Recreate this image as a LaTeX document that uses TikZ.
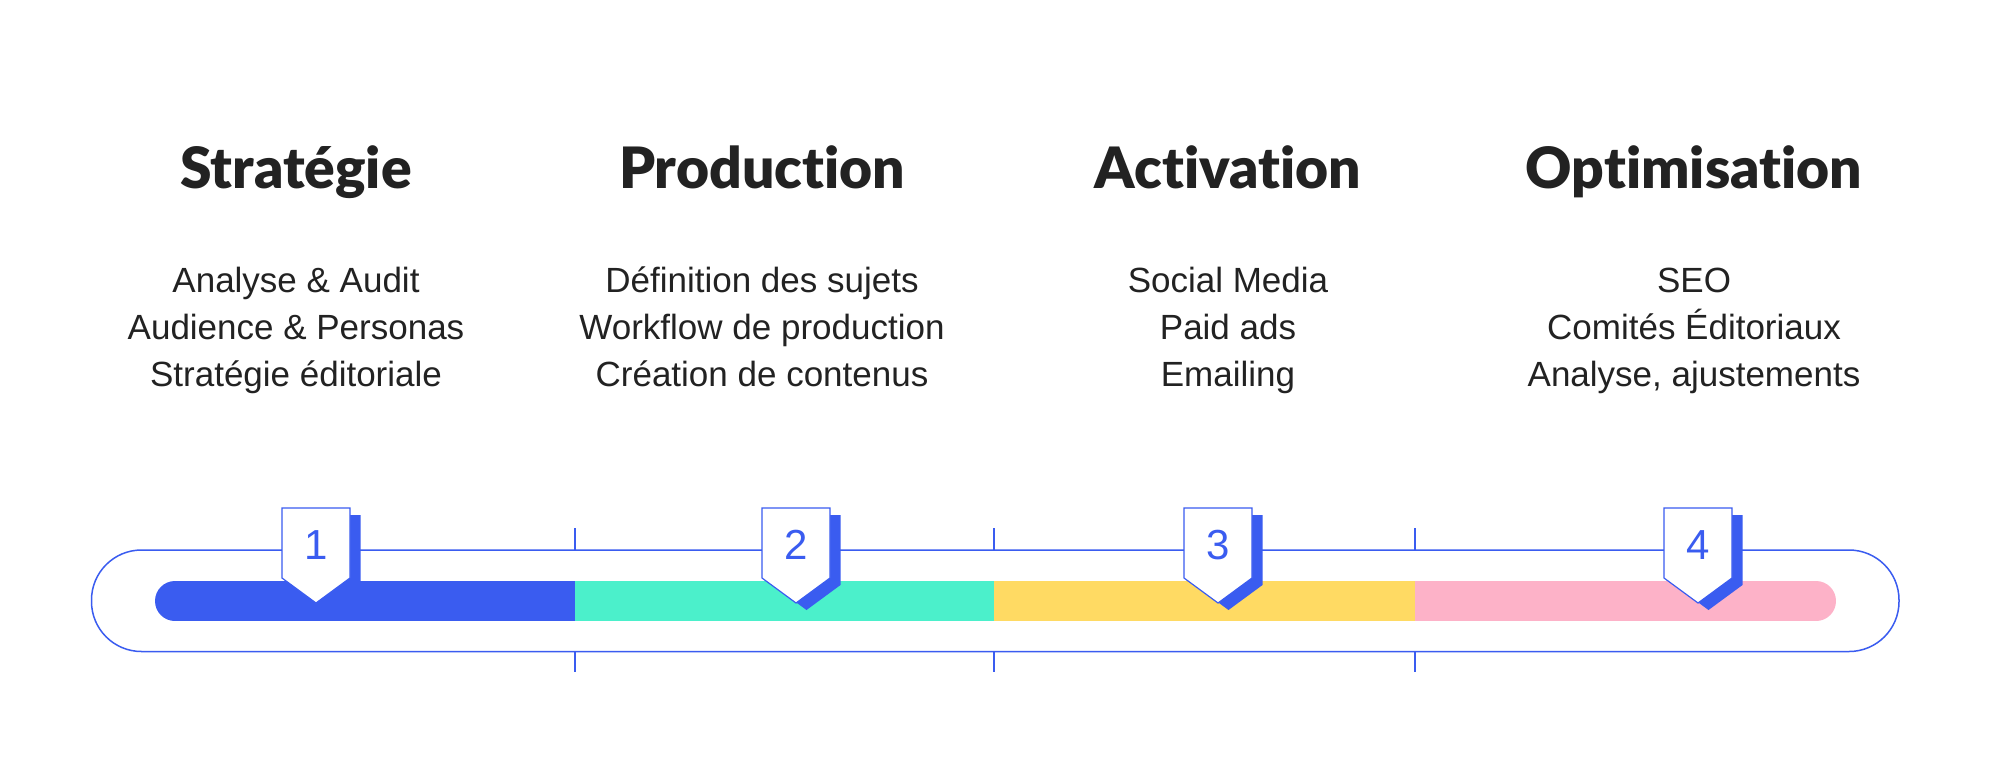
\documentclass[tikz,border=0pt]{standalone}
\usepackage{fontspec}
\setmainfont{Liberation Sans}
\IfFontExistsTF{Lato Black}{\newfontfamily\titrefont{Lato Black}[Ligatures=NoCommon]}{\newfontfamily\titrefont{Lato}[FakeBold=2,Ligatures=NoCommon]}
\usepackage{tikz}
\definecolor{bleu}{HTML}{3A5CF0}
\definecolor{vert}{HTML}{4BF0CB}
\definecolor{jaune}{HTML}{FFDA63}
\definecolor{rose}{HTML}{FDB2C8}
\definecolor{encre}{HTML}{222222}

\begin{document}
\begin{tikzpicture}[x=1pt,y=-1pt,
	titre/.style={font=\titrefont\fontsize{57}{62}\selectfont,text=encre,anchor=base,inner sep=0pt},
	ligne/.style={font=\fontsize{35}{40}\selectfont,text=encre,anchor=base,inner sep=0pt},
	chiffre/.style={font=\fontsize{42}{46}\selectfont,text=bleu,inner sep=0pt},
	trait/.style={draw=bleu,line width=1.5pt}]
	\useasboundingbox[fill=white] (0,0) rectangle (1999,780);
	\foreach \x/\t [count=\i] in {296/Stratégie,762/Production,1228/Activation,1694/Optimisation}{
		\node[titre] (t\i) at (\x,188) {\t};
	}
	\foreach \x/\a/\b/\c [count=\i] in {296/Analyse \& Audit/Audience \& Personas/Stratégie éditoriale,
		762/Définition des sujets/Workflow de production/Création de contenus,
		1228/Social Media/Paid ads/Emailing,
		1694/SEO/Comités Éditoriaux/{Analyse, ajustements}}{
		\node[ligne] (l\i-1) at (\x,292) {\a};
		\node[ligne] (l\i-2) at (\x,339) {\b};
		\node[ligne] (l\i-3) at (\x,386) {\c};
	}
	\draw[trait,rounded corners=50pt] (91.5,550) rectangle (1899,651.5);
	\foreach \x in {575,994,1415}{
		\draw[trait] (\x,528) -- (\x,550);
		\draw[trait] (\x,651.5) -- (\x,672);
	}
	\begin{scope}
		\clip[rounded corners=20pt] (155,581) rectangle (1836,621);
		\foreach \a/\b/\c in {155/575/bleu,575/994/vert,994/1415/jaune,1415/1836/rose}{
			\fill[\c] (\a,581) rectangle (\b,621);
		}
	\end{scope}
	\foreach \x [count=\i] in {316,796,1218,1698}{
		\fill[bleu] ({\x-23.5},515) -- ({\x+44.5},515) -- ({\x+44.5},585) -- ({\x+10.5},610) -- ({\x-23.5},585) -- cycle;
		\filldraw[fill=white,draw=bleu,line width=1.2pt] ({\x-34},508) -- ({\x+34},508) -- ({\x+34},578) -- (\x,603) -- ({\x-34},578) -- cycle;
		\node[chiffre] (n\i) at (\x,545) {\i};
	}
\end{tikzpicture}
\end{document}
